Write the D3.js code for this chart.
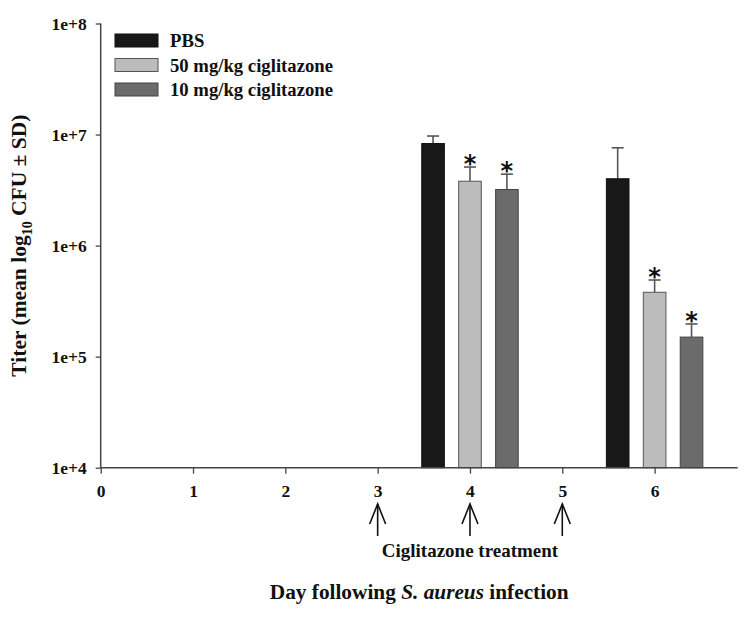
<!DOCTYPE html>
<html>
<head>
<meta charset="utf-8">
<script src="https://cdn.jsdelivr.net/npm/d3@7"></script>
<style>
  html, body { margin: 0; padding: 0; background: #fff; }
  svg text { font-family: "Liberation Serif", "Times New Roman", serif; font-weight: bold; fill: #111; }
</style>
</head>
<body>
<svg id="chart" width="750" height="617"></svg>
<script>
// ---- data ----
const days = [4, 6];
const seriesNames = ["PBS", "50 mg/kg ciglitazone", "10 mg/kg ciglitazone"];
const pbsMean = [8.3e6, 4.0e6];
const pbsUpper = [9.7e6, 7.6e6];
const cig50Mean = [3.8e6, 3.8e5];
const cig50Upper = [5.1e6, 4.9e5];
const cig10Mean = [3.2e6, 1.5e5];
const cig10Upper = [4.4e6, 1.97e5];
const cig50Signif = [true, true];
const cig10Signif = [true, true];
const pbsSignif = [false, false];
const xTicks = [0, 1, 2, 3, 4, 5, 6];
const yTicks = [1e4, 1e5, 1e6, 1e7, 1e8];
const yTickLabels = ["1e+4", "1e+5", "1e+6", "1e+7", "1e+8"];
const treatmentDays = [3, 4, 5];

const colors = ["#181818", "#bcbcbc", "#6b6b6b"];
const strokes = ["#111", "#555", "#444"];

const series = [
  { name: seriesNames[0], mean: pbsMean, upper: pbsUpper, sig: pbsSignif },
  { name: seriesNames[1], mean: cig50Mean, upper: cig50Upper, sig: cig50Signif },
  { name: seriesNames[2], mean: cig10Mean, upper: cig10Upper, sig: cig10Signif }
];

const svg = d3.select("#chart");
const mLeft = 100.7, mRight = 737.7, mTop = 23.5, mBottom = 467.7;

const x = d3.scaleLinear().domain([0, 6.9]).range([mLeft, mRight]);
const y = d3.scaleLog().domain([1e4, 1e8]).range([mBottom, mTop]);

const offsets = [-0.4, 0, 0.4];
const bw = 0.245;

// bars
series.forEach((s, i) => {
  const g = svg.append("g");
  days.forEach((d, j) => {
    const cx = d + offsets[i];
    const x0 = x(cx - bw / 2), x1 = x(cx + bw / 2);
    const capW = 6;
    const xc = (x0 + x1) / 2;
    g.append("line").attr("x1", xc).attr("x2", xc)
      .attr("y1", y(s.mean[j])).attr("y2", y(s.upper[j]))
      .attr("stroke", "#555").attr("stroke-width", 1.6);
    g.append("line").attr("x1", xc - capW).attr("x2", xc + capW)
      .attr("y1", y(s.upper[j])).attr("y2", y(s.upper[j]))
      .attr("stroke", "#555").attr("stroke-width", 1.6);
    g.append("rect")
      .attr("x", x0).attr("width", x1 - x0)
      .attr("y", y(s.mean[j])).attr("height", mBottom - y(s.mean[j]))
      .attr("fill", colors[i]).attr("stroke", strokes[i]).attr("stroke-width", 1);
    if (s.sig[j]) {
      g.append("text").attr("x", xc).attr("y", y(s.upper[j]) + 5)
        .attr("text-anchor", "middle").attr("font-size", 24)
        .style("font-family", "DejaVu Sans").style("font-weight", "bold")
        .text("*");
    }
  });
});

// axes
const yAxis = d3.axisLeft(y).tickValues(yTicks)
  .tickFormat((d, i) => yTickLabels[i]).tickSize(5).tickPadding(9);
const yg = svg.append("g").attr("transform", `translate(${mLeft},0)`).call(yAxis);
const xAxis = d3.axisBottom(x).tickValues(xTicks).tickFormat(d3.format("d")).tickSize(6).tickPadding(11);
const xg = svg.append("g").attr("transform", `translate(0,${mBottom})`).call(xAxis);
[yg, xg].forEach(g => {
  g.select(".domain").attr("stroke", "#444").attr("stroke-width", 1.5);
  g.selectAll(".tick line").attr("stroke", "#444").attr("stroke-width", 1.3);
  g.selectAll(".tick text").attr("font-size", 17.5).attr("fill", "#111")
    .style("font-family", "'Liberation Serif', serif").style("font-weight", "bold");
});
yg.select(".domain").attr("d", `M0,${mTop}V${mBottom}`);
xg.select(".domain").attr("d", `M${mLeft},0H${mRight}`);

// legend
const lg = svg.append("g");
series.forEach((s, i) => {
  const yy = 34 + i * 24.5;
  lg.append("rect").attr("x", 115).attr("y", yy).attr("width", 43).attr("height", 13)
    .attr("fill", colors[i]).attr("stroke", strokes[i]).attr("stroke-width", 1);
  lg.append("text").attr("x", 170).attr("y", yy + 13).attr("font-size", 18.7).text(s.name);
});

// treatment arrows
treatmentDays.forEach(d => {
  const ax = x(d);
  svg.append("line").attr("x1", ax).attr("x2", ax).attr("y1", 504).attr("y2", 536)
    .attr("stroke", "#111").attr("stroke-width", 1.6);
  svg.append("path").attr("d", `M${ax - 8},${524}L${ax},${504}L${ax + 8},${524}`)
    .attr("fill", "none").attr("stroke", "#111").attr("stroke-width", 1.6);
});
svg.append("text").attr("x", x(4)).attr("y", 557).attr("text-anchor", "middle")
  .attr("font-size", 19).text("Ciglitazone treatment");

// x title
const xt = svg.append("text").attr("x", (mLeft + mRight) / 2).attr("y", 599)
  .attr("text-anchor", "middle").attr("font-size", 21.3);
xt.append("tspan").text("Day following ");
xt.append("tspan").style("font-style", "italic").text("S. aureus");
xt.append("tspan").text(" infection");

// y title
const yt = svg.append("text")
  .attr("transform", `translate(26,${(mTop + mBottom) / 2}) rotate(-90)`)
  .attr("text-anchor", "middle").attr("font-size", 21.5);
yt.append("tspan").text("Titer (mean log");
yt.append("tspan").attr("font-size", 14).attr("dy", 6).text("10");
yt.append("tspan").attr("dy", -6).text(" CFU \u00B1 SD)");
</script>
</body>
</html>
